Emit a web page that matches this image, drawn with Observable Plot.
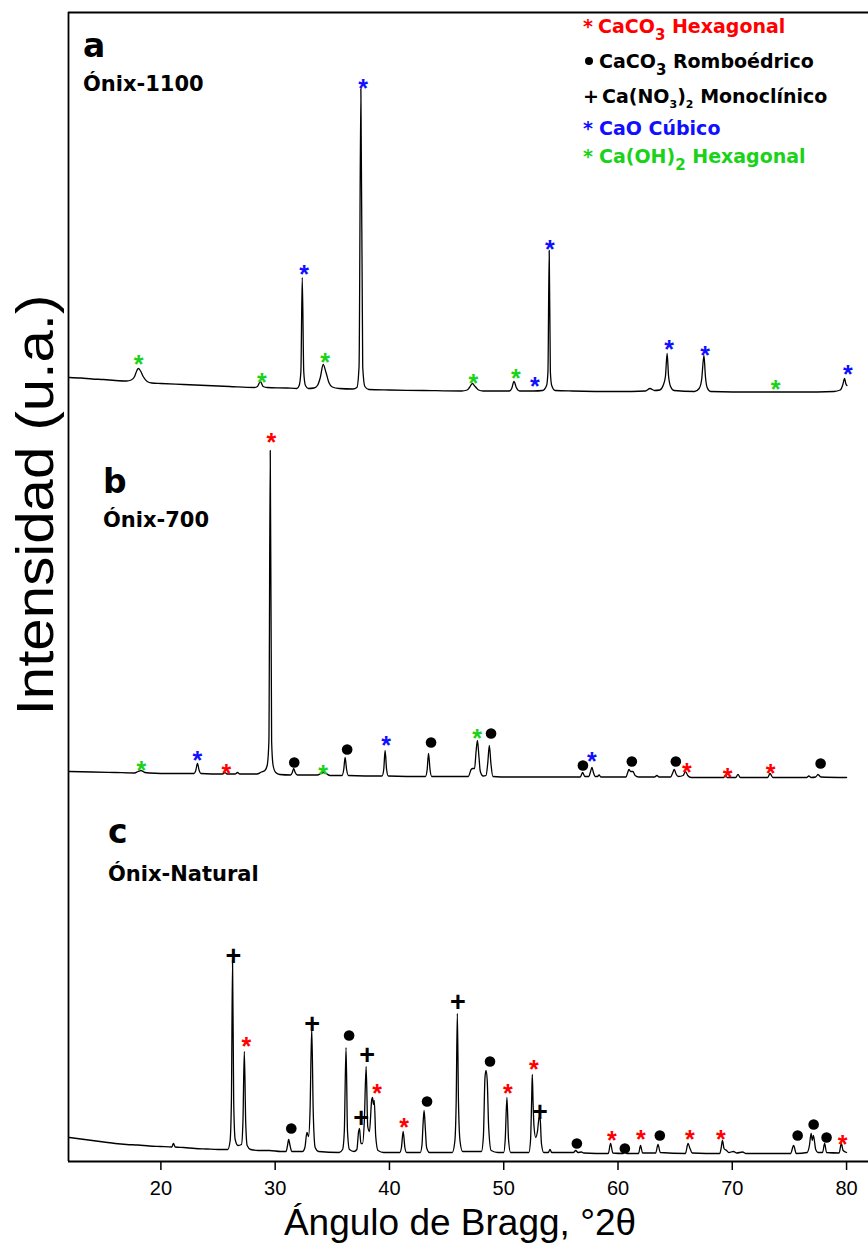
<!DOCTYPE html>
<html>
<head>
<meta charset="utf-8">
<script src="https://cdn.jsdelivr.net/npm/d3@7"></script>
<script src="https://cdn.jsdelivr.net/npm/@observablehq/plot@0.6"></script>
<style>
  body { margin: 0; background: #fff; }
  #chart { width: 868px; height: 1251px; }
</style>
</head>
<body>
<div id="chart"></div>
<script>
// X-ray diffraction patterns of onyx: calcined at 1100 °C, at 700 °C, and natural.
// Intensities are in arbitrary units, already stacked (a on top, c at the bottom).

const xTicks = [20, 30, 40, 50, 60, 70, 80];

// [2θ (°), intensity]
const onix1100 = [
  [12.0,784],[13,783.5],[14,782.5],[15,782],[16,781],[17.0,780.5],[17.4,781.5],[17.7,785],[17.9,791],[18.03,793],
  [18.2,791],[18.45,785],[18.8,780],[19.2,778.5],[20,778],[22,777],[24,776],[26,775],[28.2,774],[28.45,775],
  [28.7,780],[28.95,775],[29.3,774],[31,773.5],[31.9,773],[32.1,776],[32.25,790],[32.37,884],[32.5,790],[32.65,776],
  [32.9,773],[33.4,773.5],[33.7,776],[33.95,784],[34.2,797],[34.45,789],[34.7,779],[35.0,774.5],[35.6,773],[36.8,772.5],
  [37.15,774],[37.34,795],[37.5,1073],[37.66,795],[37.85,775],[38.2,772],[40,771.5],[43,771],[46.3,770.5],[46.8,771.5],
  [47.0,774],[47.25,778],[47.5,775],[47.8,771.5],[48.2,770.5],[50.5,770.5],[50.7,773],[50.9,780],[51.1,774],[51.4,770.5],
  [52.6,770.5],[53.4,771],[53.75,776],[53.87,790],[53.98,911],[54.08,790],[54.2,776],[54.5,771],[56,770.5],[60,770],
  [62.4,770.5],[62.8,773],[63.2,771],[63.65,771.5],[63.95,776],[64.15,785],[64.3,808],[64.42,786],[64.6,775],[64.9,771],
  [66.7,770],[67.1,773],[67.32,782],[67.52,806],[67.65,785],[67.8,774],[68.1,770],[72,769.5],[76,769.5],[78.9,770],
  [79.45,771.5],[79.65,776],[79.83,783],[79.93,778],[80.03,776]
];

const onix700 = [
  [12.0,390],[14,389.5],[16,389],[17.7,388.5],[18.0,390],[18.25,391],[18.6,389],[19,388.5],[21,388],[22.9,388],
  [23.05,391],[23.2,398],[23.35,391],[23.5,388],[25.4,387.5],[25.6,389],[25.8,387.5],[26.5,387.5],[26.7,389],[26.9,387.5],
  [28.4,387.5],[28.8,389.5],[29.1,391],[29.3,396],[29.45,420],[29.57,711],[29.69,420],[29.82,396],[30.05,389],[30.4,387],
  [31.35,386.5],[31.5,389],[31.62,393],[31.75,389],[31.95,386.5],[33.7,386.5],[34.0,388],[34.2,389],[34.45,388],[34.8,386],
  [35.85,386],[36.0,392],[36.12,404],[36.25,392],[36.4,386],[39.35,385.5],[39.5,392],[39.62,411],[39.75,392],[39.9,385.5],
  [43.15,385],[43.3,392],[43.42,408],[43.55,392],[43.7,385],[46.9,385],[47.15,392],[47.3,393],[47.45,393],[47.58,410],
  [47.7,421],[47.83,405],[47.95,390],[48.2,385.5],[48.45,386],[48.6,398],[48.74,416],[48.88,398],[49.05,385],[50.5,384.5],
  [56.7,384.5],[56.9,389],[57.1,385],[57.45,385],[57.6,390],[57.72,394],[57.85,389],[58.0,385],[58.2,385],[58.35,386.5],
  [58.5,384.5],[60.7,384.5],[60.85,389],[60.96,392],[61.1,390],[61.3,390],[61.5,386],[61.8,384.5],[63.2,384.5],[63.4,386],
  [63.6,384.5],[64.6,384.5],[64.8,389],[64.92,392],[65.1,387],[65.3,385],[65.7,386],[65.9,390],[66.1,386],[66.4,384],
  [69.25,384],[69.4,386],[69.55,384],[70.3,384],[70.5,387],[70.7,384],[73.1,384],[73.3,388],[73.55,384],[76.5,384],
  [76.7,385.5],[76.9,384],[77.3,384.5],[77.5,387],[77.75,384.5],[80.0,384]
];

const onixNatural = [
  [12.0,24],[13,22.5],[14,21],[15,19.5],[16,18],[17,17],[18,16.5],[19,15.5],[20,15],[20.95,14.5],
  [21.1,18],[21.25,14.5],[22,14],[23,13],[24,12.5],[25,12],[25.85,12],[26.05,20],[26.17,60],[26.27,201],
  [26.37,60],[26.5,22],[26.75,16],[27.05,17],[27.18,40],[27.3,110],[27.42,40],[27.55,16],[27.85,12],[28.5,11],
  [29.5,11],[30.5,10],[30.95,10],[31.08,16],[31.18,22],[31.3,16],[31.45,10],[32.4,10],[32.6,14],[32.78,29],
  [32.92,25],[33.05,50],[33.2,133],[33.33,50],[33.5,14],[33.8,10],[35.6,9],[35.9,12],[36.05,30],[36.2,114],
  [36.33,30],[36.5,12],[36.9,10],[37.15,12],[37.3,30],[37.38,33],[37.5,18],[37.65,18],[37.8,40],[37.96,95],
  [38.1,35],[38.25,30],[38.45,62],[38.52,64],[38.6,57],[38.67,61],[38.8,25],[39.0,11],[39.5,9],[40.9,9],
  [41.05,14],[41.2,30],[41.35,14],[41.5,9],[42.7,9],[42.85,17],[42.93,35],[43.03,51],[43.13,35],[43.25,14],
  [43.5,9],[45.5,9],[45.72,20],[45.84,60],[45.94,148],[46.04,60],[46.18,20],[46.4,10],[48.05,10],[48.22,25],
  [48.36,84],[48.45,91],[48.56,80],[48.68,35],[48.9,11],[49.5,9],[50.0,9],[50.13,22],[50.28,64],[50.42,22],
  [50.6,9],[52.2,9],[52.35,22],[52.44,60],[52.5,87],[52.57,58],[52.65,35],[52.8,24],[52.95,30],[53.1,44],
  [53.19,42],[53.3,18],[53.5,9],[53.9,9],[54.05,12],[54.2,9],[56.1,9],[56.3,11],[56.5,9],[56.8,9.5],
  [57.0,8.5],[59.15,8],[59.35,18],[59.55,8.5],[60.45,8],[60.6,10],[60.75,8],[61.8,8],[61.97,16],[62.15,8.5],
  [63.3,8.5],[63.5,17],[63.7,9],[65.9,8],[66.13,18],[66.3,13],[66.5,8.5],[68.9,8],[69.02,13],[69.14,21],
  [69.28,13],[69.5,11],[69.7,9],[70.1,10],[70.4,8.5],[70.9,9.5],[71.2,8],[75.1,8],[75.37,16],[75.6,8],
  [76.55,9],[76.75,16],[76.9,28],[77.0,21],[77.1,26],[77.3,12],[77.5,9],[77.9,9],[78.08,18],[78.25,9],
  [79.35,8.5],[79.54,18],[79.7,11],[80.0,9]
];

// Phase identification marks: [2θ (°), level, phase]
const marks1100 = [
  [18.06,803,"portlandite"],[28.84,785,"portlandite"],[32.54,893,"cao"],[34.38,805,"portlandite"],
  [37.7,1079,"cao"],[47.34,784,"portlandite"],[51.07,789,"portlandite"],[52.73,781,"cao"],
  [54.04,918,"cao"],[64.47,818,"cao"],[67.62,812,"cao"],[73.79,778,"portlandite"],[80.11,793,"cao"]
];

const marks700 = [
  [18.30,397,"portlandite"],[23.19,407,"cao"],[25.72,394,"calcHex"],[29.66,725,"calcHex"],
  [31.67,399,"calcRhomb"],[34.20,393,"portlandite"],[36.30,412,"calcRhomb"],[39.71,422,"cao"],
  [43.64,419,"calcRhomb"],[47.66,429,"portlandite"],[48.89,428,"calcRhomb"],[56.93,396,"calcRhomb"],
  [57.71,406,"cao"],[61.21,400,"calcRhomb"],[65.06,400,"calcRhomb"],[66.02,395,"calcHex"],
  [69.6,390,"calcHex"],[73.36,394,"calcHex"],[77.73,398,"calcRhomb"]
];

const marksNatural = [
  [26.34,206,"nitrate"],[27.47,121,"calcHex"],[31.41,33,"calcRhomb"],[33.24,138,"nitrate"],
  [36.47,126,"calcRhomb"],[38.05,107,"nitrate"],[37.52,44,"nitrate"],[38.92,74,"calcHex"],
  [41.28,40,"calcHex"],[43.29,60,"calcRhomb"],[46.0,160,"nitrate"],[48.8,100,"calcRhomb"],
  [50.37,74,"calcHex"],[52.64,98,"calcHex"],[53.17,50,"nitrate"],[56.4,18,"calcRhomb"],
  [59.46,27,"calcHex"],[60.6,13,"calcRhomb"],[62.0,28,"calcHex"],[63.66,26,"calcRhomb"],
  [66.28,28,"calcHex"],[68.99,28,"calcHex"],[75.72,26,"calcRhomb"],[77.12,37,"calcRhomb"],
  [78.25,24,"calcRhomb"],[79.65,23,"calcHex"]
];

// Phases: key, symbol, colour, legend label (segments; "sub" = subscript)
const phaseKeys    = ["calcHex", "calcRhomb", "nitrate", "cao", "portlandite"];
const phaseSymbols = ["*", "dot", "+", "*", "*"];
const phaseColors  = ["#ff0000", "#000000", "#000000", "#1010ff", "#19d219"];
const phaseLabels  = [
  [["CaCO"], ["3", "sub"], [" Hexagonal"]],
  [["CaCO"], ["3", "sub"], [" Romboédrico"]],
  [["Ca(NO"], ["3", "small"], [")"], ["2", "small"], [" Monoclínico"]],
  [["CaO Cúbico"]],
  [["Ca(OH)"], ["2", "sub"], [" Hexagonal"]]
];

const sampleLetters = ["a", "b", "c"];
const sampleNames = ["Ónix-1100", "Ónix-700", "Ónix-Natural"];

const xLabel = "Ángulo de Bragg, °2θ";
const yLabel = "Intensidad (u.a.)";

const xDomain = [11.915, 81.92];
const yDomain = [0, 1149];

const arial = "'Liberation Sans', Arial, Helvetica, sans-serif";
const bold = "'DejaVu Sans', Verdana, sans-serif";

function phaseMarks(list) {
  const out = [];
  phaseKeys.forEach((key, i) => {
    const pts = list.filter(d => d[2] === key);
    if (!pts.length) return;
    const sym = phaseSymbols[i];
    if (sym === "dot") {
      out.push(Plot.dot(pts, {x: d => d[0], y: d => d[1], r: 5.3, fill: phaseColors[i]}));
    } else if (sym === "+") {
      out.push(Plot.text(pts, {x: d => d[0], y: d => d[1], text: () => "+", fill: phaseColors[i],
        fontSize: 27, fontWeight: "bold", fontFamily: arial, dy: 1}));
    } else {
      out.push(Plot.text(pts, {x: d => d[0], y: d => d[1], text: () => "*", fill: phaseColors[i],
        fontSize: 25, fontWeight: "bold", fontFamily: arial, dy: 6}));
    }
  });
  return out;
}

const traceStyle = {x: d => d[0], y: d => d[1], stroke: "#000", strokeWidth: 1.3, curve: "monotone-x"};

const plot = Plot.plot({
  width: 868,
  height: 1251,
  marginLeft: 68,
  marginRight: 0,
  marginTop: 12,
  marginBottom: 90,
  style: {background: "#fff", color: "#000", fontFamily: arial},
  x: {domain: xDomain},
  y: {domain: yDomain, axis: null},
  marks: [
    Plot.ruleX([xDomain[0]], {stroke: "#000", strokeWidth: 1.8}),
    Plot.ruleY([yDomain[0], yDomain[1]], {stroke: "#000", strokeWidth: 1.8}),
    Plot.axisX({ticks: xTicks, tickSize: 9, tickPadding: 10, fontSize: 20, label: null, strokeWidth: 1.5, tickFormat: d => d}),
    Plot.line(onix1100, traceStyle),
    Plot.line(onix700, traceStyle),
    Plot.line(onixNatural, traceStyle),
    ...phaseMarks(marks1100),
    ...phaseMarks(marks700),
    ...phaseMarks(marksNatural)
  ]
});

document.getElementById("chart").appendChild(plot);

// Annotations: axis titles, sample labels and the phase legend
const svg = d3.select(plot);
const notes = svg.append("g").attr("text-anchor", "start");

notes.append("text")
  .attr("transform", "translate(460,1235)")
  .attr("text-anchor", "middle")
  .attr("font-family", arial)
  .attr("font-size", 37)
  .attr("fill", "#000")
  .text(xLabel);

notes.append("text")
  .attr("transform", "translate(53,505) rotate(-90) scale(1.12,1)")
  .attr("text-anchor", "middle")
  .attr("font-family", arial)
  .attr("font-size", 52)
  .attr("fill", "#000")
  .text(yLabel);

const letterPos = [[83, 57, 91], [103, 493, 527], [108, 843, 881]];
sampleLetters.forEach((letter, i) => {
  const [lx, ly, ny] = letterPos[i];
  notes.append("text").attr("x", lx).attr("y", ly).attr("text-anchor", "start")
    .attr("font-family", bold).attr("font-weight", "bold").attr("font-size", 33).attr("fill", "#000")
    .text(letter);
  notes.append("text").attr("x", lx).attr("y", ny).attr("text-anchor", "start")
    .attr("font-family", bold).attr("font-weight", "bold").attr("font-size", 21).attr("fill", "#000")
    .text(sampleNames[i]);
});

const legendBaselines = [33, 68, 103, 135, 163];
const legendTextX = [598, 599, 602, 599, 599];
const legend = notes.append("g").attr("text-anchor", "start")
  .attr("font-family", bold).attr("font-weight", "bold").attr("font-size", 19);

phaseKeys.forEach((key, i) => {
  const by = legendBaselines[i];
  const color = phaseColors[i];
  const sym = phaseSymbols[i];
  if (sym === "dot") {
    legend.append("circle").attr("cx", 589).attr("cy", by - 7).attr("r", 4).attr("fill", color);
  } else {
    legend.append("text").attr("x", 583).attr("y", by).attr("fill", color).text(sym);
  }
  const t = legend.append("text").attr("x", legendTextX[i]).attr("y", by).attr("fill", color);
  let shift = 0;
  phaseLabels[i].forEach(([s, kind]) => {
    const span = t.append("tspan").text(s);
    const target = kind === "sub" ? 7 : kind === "small" ? 5 : 0;
    span.attr("dy", target - shift);
    if (kind === "sub") span.attr("font-size", 15);
    if (kind === "small") span.attr("font-size", 11);
    shift = target;
  });
});
</script>
</body>
</html>
